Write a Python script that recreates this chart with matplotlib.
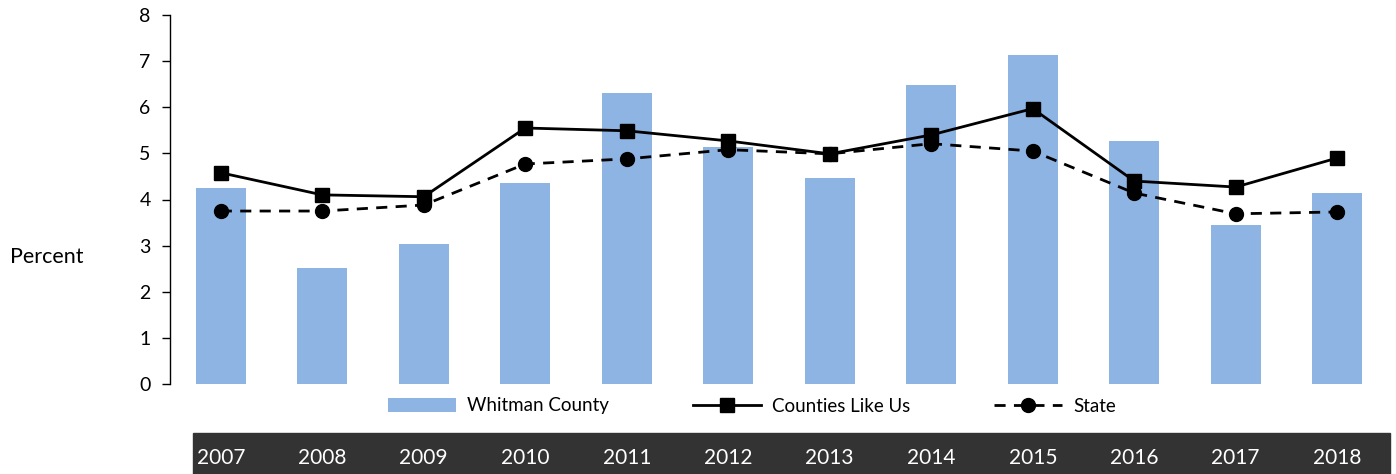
import matplotlib
matplotlib.use("Agg")
import matplotlib.pyplot as plt
import matplotlib.transforms as mtransforms
from matplotlib.patches import Rectangle
import numpy as np

years = ["2007", "2008", "2009", "2010", "2011", "2012",
         "2013", "2014", "2015", "2016", "2017", "2018"]
whitman = [4.25, 2.52, 3.04, 4.36, 6.31, 5.14, 4.47, 6.49, 7.14, 5.27, 3.45, 4.14]
counties = [4.58, 4.10, 4.06, 5.55, 5.49, 5.27, 4.99, 5.40, 5.97, 4.40, 4.27, 4.90]
state = [3.75, 3.75, 3.88, 4.77, 4.88, 5.08, 4.99, 5.21, 5.05, 4.14, 3.69, 3.73]

plt.rcParams['font.family'] = ['Lato', 'DejaVu Sans']

W, H = 1396, 474
fig = plt.figure(figsize=(W / 100, H / 100), dpi=100)
# axes box in pixels: left 170, right 1388, top 15, bottom 384
ax = fig.add_axes([170 / W, 1 - 384 / H, (1388 - 170) / W, (384 - 15) / H])

x = np.arange(len(years))
b = ax.bar(x, whitman, width=0.49, color="#8EB4E3", label="Whitman County", zorder=1)
l1, = ax.plot(x, counties, color="black", lw=2, marker="s", ms=10.5,
              label="Counties Like Us", zorder=3)
l2, = ax.plot(x, state, color="black", lw=2, ls=(0, (4, 3)), marker="o", ms=10,
              label="State", zorder=2)

ax.set_xlim(-0.5, len(years) - 0.5)
ax.set_ylim(0, 8)
ax.set_yticks(range(0, 9))
ax.tick_params(axis="y", labelsize=14, length=6, width=1, direction="out", pad=8)
ax.set_xticks([])
for s in ["top", "right", "bottom"]:
    ax.spines[s].set_visible(False)
ax.spines["left"].set_linewidth(1)

fig.text(10 / W, 1 - 257 / H, "Percent", fontsize=15.5, va="center", ha="left")

leg = ax.legend([b, l1, l2], ["Whitman County", "Counties Like Us", "State"],
                loc="center", bbox_to_anchor=(752 / W, 1 - 406 / H),
                bbox_transform=fig.transFigure, ncol=3, frameon=False,
                fontsize=13.5, handlelength=3.6, columnspacing=4.5, handletextpad=0.6)

# dark band with year labels
fig.patches.append(Rectangle((193 / W, 0), (1390 - 193) / W, (474 - 433) / H,
                             transform=fig.transFigure, color="#333333", zorder=0))
trans = mtransforms.blended_transform_factory(ax.transData, fig.transFigure)
for xi, yr in zip(x, years):
    fig.text(xi, 1 - 458 / H, yr, transform=trans, color="white", fontsize=15,
             ha="center", va="center", zorder=5)

fig.savefig("out.png", dpi=100)
